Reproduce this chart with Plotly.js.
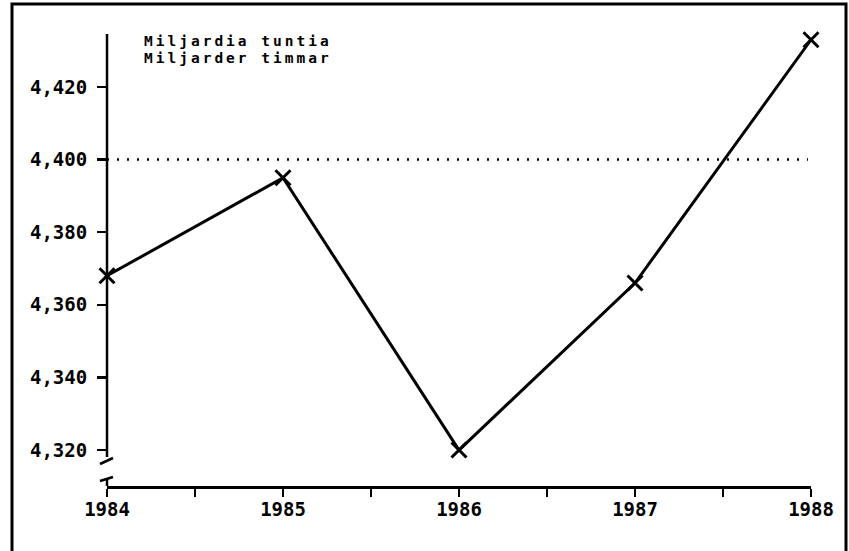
<!DOCTYPE html>
<html>
<head>
<meta charset="utf-8">
<script src="https://cdn.plot.ly/plotly-3.0.1.min.js"></script>
<style>
  body { margin: 0; background: #fff; }
  #chart { width: 849px; height: 551px; }
  /* the original lettering is wide-set */
  .annotation-text { letter-spacing: 3px; }
</style>
</head>
<body>
<div id="chart"></div>
<script>
// Working hours, billions
const years = [1984, 1985, 1986, 1987, 1988];
const hours = [4368, 4395, 4320, 4366, 4433];

const yTickVals = [4320, 4340, 4360, 4380, 4400, 4420];
const yTickText = ['4,320', '4,340', '4,360', '4,380', '4,400', '4,420'];
const referenceLevel = 4400;

const legendLines = ['Miljardia tuntia', 'Miljarder timmar'];

const monoBold = { family: '"DejaVu Sans Mono", monospace', size: 19, color: '#000', weight: 'bold' };

// pixel helpers for decorations drawn outside the data area
const plotL = 107, plotR = 811, plotT = 34, plotB = 486;
const px = x => (x - plotL) / (plotR - plotL);
const py = y => (plotB - y) / (plotB - plotT);

const trace = {
    type: 'scatter',
    mode: 'lines+markers',
    x: years,
    y: hours,
    line: { color: '#000', width: 3 },
    marker: {
        symbol: 'x-thin-open',
        size: 15,
        color: '#000',
        line: { color: '#000', width: 3 }
    },
    cliponaxis: false,
    hoverinfo: 'none'
};

const blackLine = { color: '#000', width: 2.5 };

const shapes = [
    // y axis, broken near the bottom
    { type: 'line', xref: 'paper', yref: 'paper', x0: 0, x1: 0, y0: py(457), y1: 1, line: blackLine },
    { type: 'line', xref: 'paper', yref: 'paper', x0: px(100), x1: px(113), y0: py(464), y1: py(458), line: blackLine },
    { type: 'line', xref: 'paper', yref: 'paper', x0: px(100), x1: px(113), y0: py(481), y1: py(477), line: blackLine },
    { type: 'line', xref: 'paper', yref: 'paper', x0: 0, x1: 0, y0: py(479), y1: 0, line: blackLine },
    // dotted reference line
    { type: 'line', xref: 'paper', yref: 'y', x0: 0, x1: px(808), y0: referenceLevel, y1: referenceLevel,
      line: { color: '#000', width: 2.5, dash: '2px,8px' } },
    // outer frame (bottom edge cut off)
    { type: 'path', xref: 'paper', yref: 'paper',
      path: `M ${px(12)} ${py(560)} L ${px(12)} ${py(4)} L ${px(846)} ${py(4)} L ${px(846)} ${py(560)}`,
      line: { color: '#000', width: 3 } }
];

const annotations = legendLines.map((t, i) => ({
    xref: 'paper', yref: 'paper',
    x: px(142), y: py(41 + i * 17),
    xanchor: 'left', yanchor: 'middle',
    text: t,
    showarrow: false,
    font: { family: '"DejaVu Sans Mono", monospace', size: 14.5, color: '#000', weight: 'bold' }
}));

const layout = {
    width: 849,
    height: 551,
    margin: { l: plotL, r: 849 - plotR, t: plotT, b: 551 - plotB },
    paper_bgcolor: '#fff',
    plot_bgcolor: '#fff',
    showlegend: false,
    xaxis: {
        range: [1984, 1988],
        tickmode: 'linear',
        tick0: 1984,
        dtick: 1,
        ticks: 'outside',
        ticklen: 8,
        tickwidth: 2.5,
        tickcolor: '#000',
        ticklabelstandoff: -3,
        showline: true,
        linecolor: '#000',
        linewidth: 2.5,
        showgrid: false,
        zeroline: false,
        tickfont: monoBold,
        minor: { tick0: 1984, dtick: 0.5, ticks: 'outside', ticklen: 8, tickwidth: 2.5, tickcolor: '#000', showgrid: false }
    },
    yaxis: {
        range: [4310.1, 4434.6],
        tickvals: yTickVals,
        ticktext: yTickText,
        ticks: 'outside',
        ticklen: 9,
        tickwidth: 2.5,
        tickcolor: '#000',
        ticklabelstandoff: 6,
        showline: false,
        showgrid: false,
        zeroline: false,
        tickfont: monoBold
    },
    shapes: shapes,
    annotations: annotations
};

Plotly.newPlot('chart', [trace], layout, { staticPlot: true, displayModeBar: false });
</script>
</body>
</html>
